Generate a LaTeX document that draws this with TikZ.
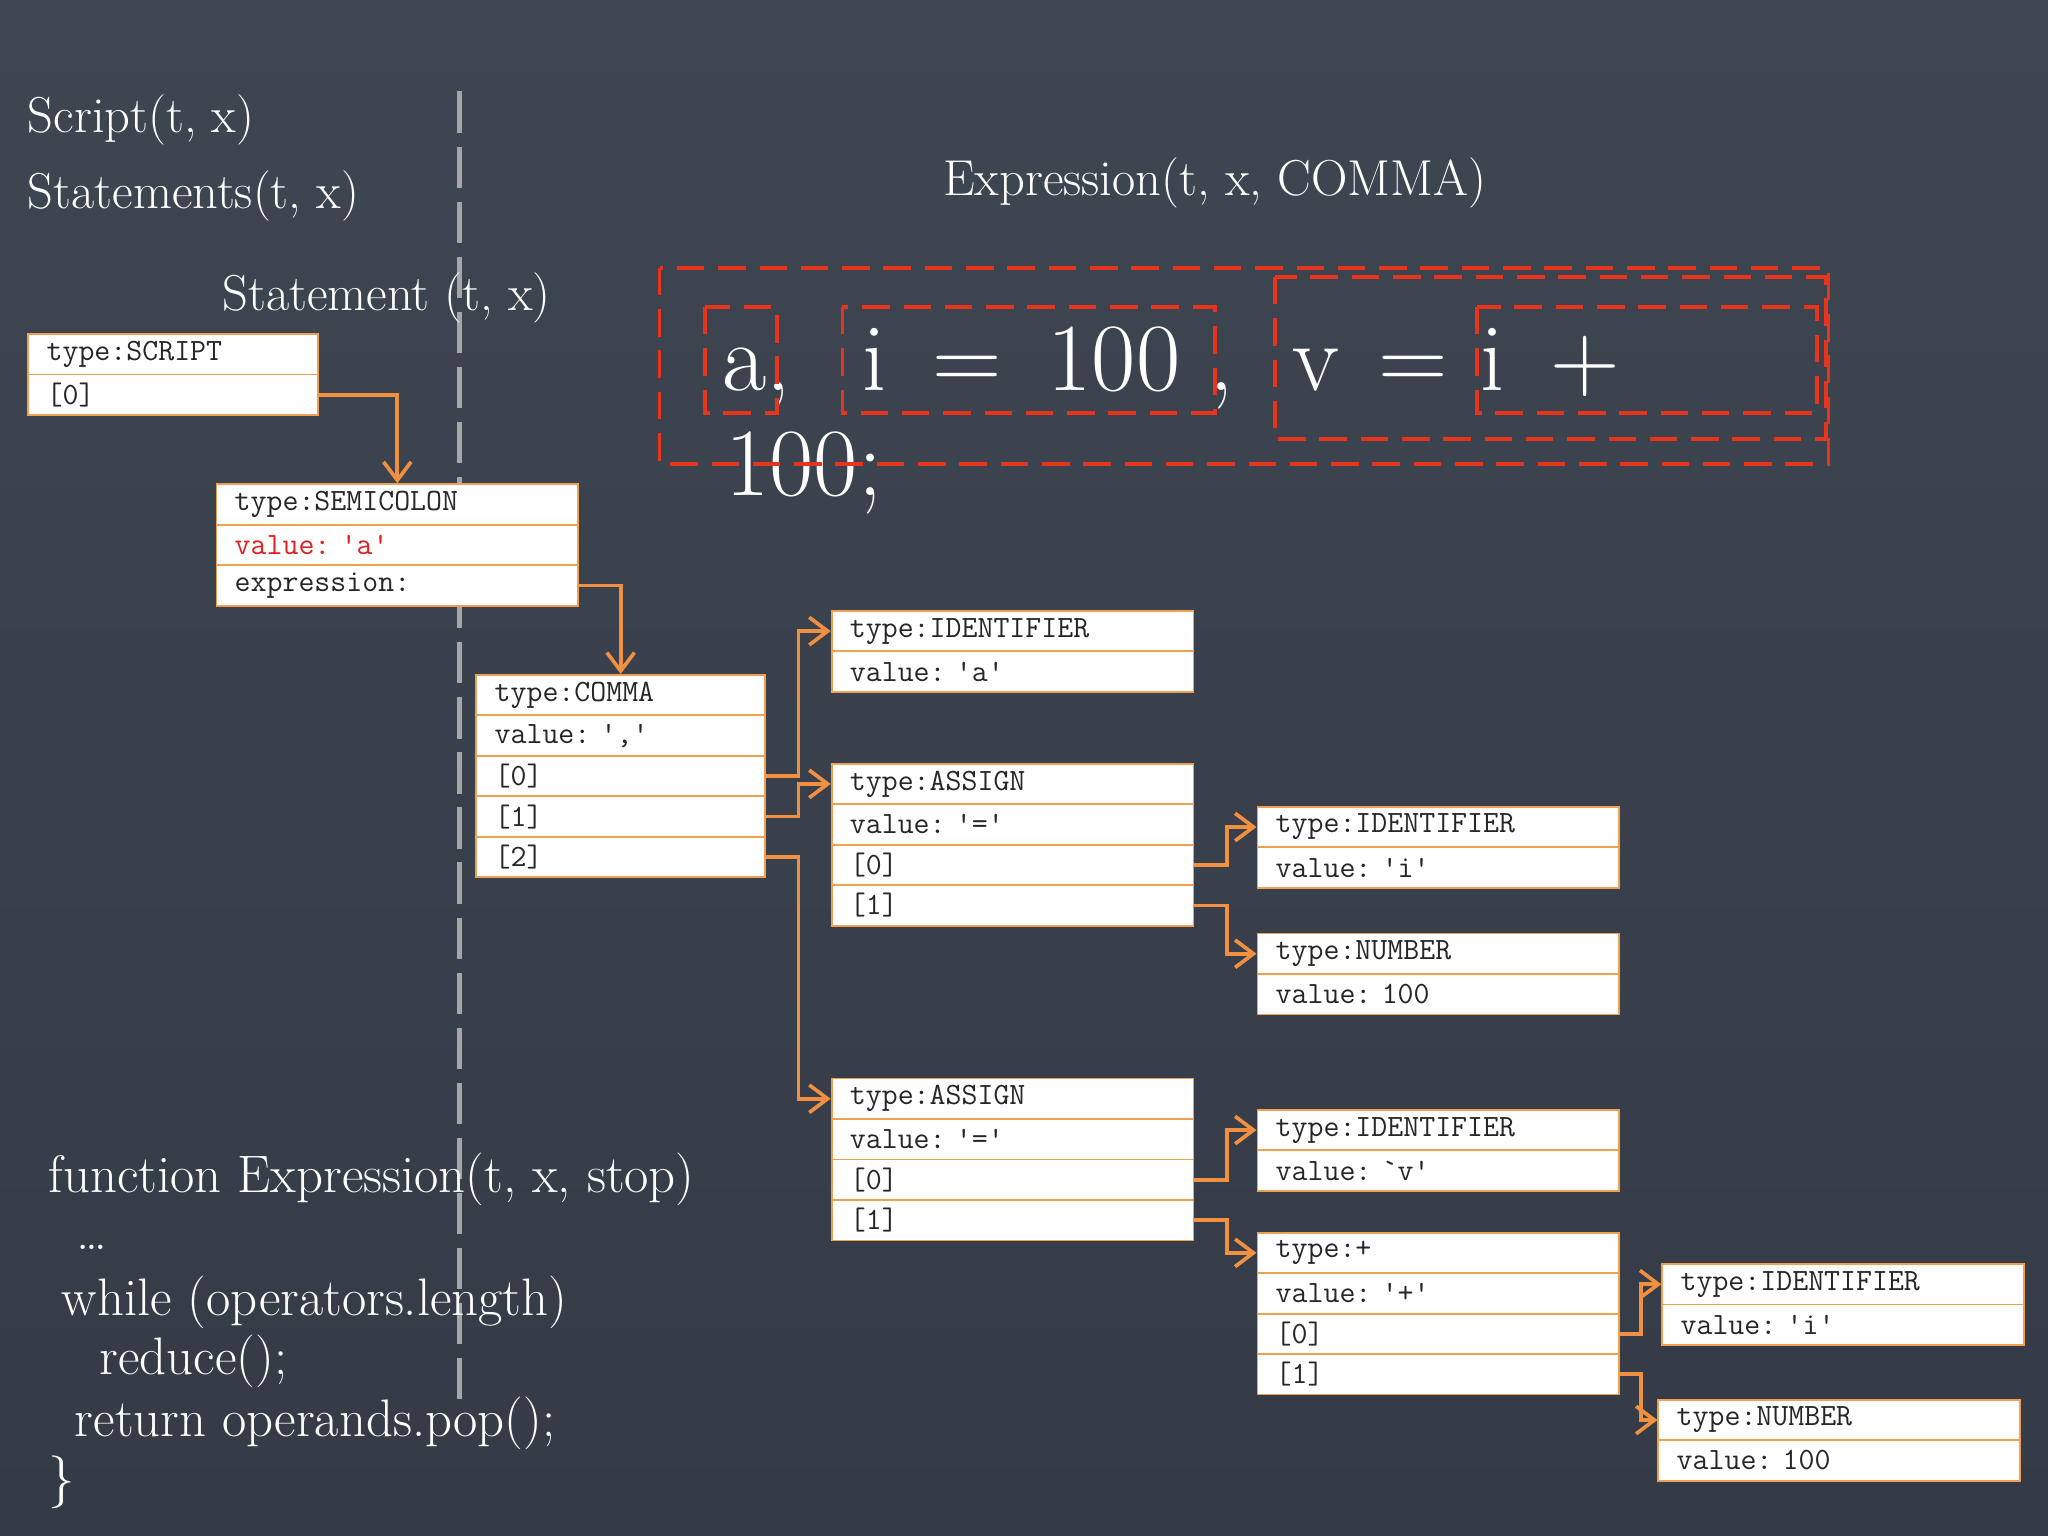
\documentclass[tikz,border=0pt]{standalone}
\usetikzlibrary{arrows.meta,calc}
\definecolor{bgA}{HTML}{3E4652}
\definecolor{bgB}{HTML}{343B46}
\definecolor{org}{HTML}{F0A050}
\definecolor{arr}{HTML}{F09040}
\definecolor{rd}{HTML}{E8341C}
\definecolor{rtxt}{HTML}{E02020}
\def\u{0.02cm}
\newcommand\q{\textquotesingle}
\tikzset{
 row/.style={draw=org,line width=0.8pt,fill=white,anchor=north west,minimum height=31*\u,inner xsep=14*\u,inner ysep=0pt,align=left,font=\ttfamily\fontsize{13.5}{15}\selectfont,text=black!85},
 conn/.style={draw=arr,line width=1.6pt,-{Straight Barb[length=8pt,width=12pt,line width=1.6pt]}},
 red box/.style={draw=rd,line width=1.6pt,dash pattern=on 12pt off 6pt},
 ttl/.style={text=white,anchor=west,font=\fontsize{22}{26}\selectfont,inner sep=0pt},
 code/.style={text=white,anchor=west,font=\fontsize{23}{27}\selectfont,inner sep=0pt}
}
\newcommand\rbox[5]{%
 \foreach \t [count=\i] in {#5} {
  \node[row,minimum width=#4*\u,text width=#4*\u-28*\u] (#1-\i) at (#2*\u,{-#3*\u-(\i-1)*31*\u}) {\t};
 }}
\begin{document}
\begin{tikzpicture}
\shade[top color=bgA,bottom color=bgB] (0,0) rectangle (1568*\u,-1176*\u);
\useasboundingbox (0,0) rectangle (1568*\u,-1176*\u);
\coordinate (l1) at (352*\u,-70*\u); \coordinate (l2) at (352*\u,-1080*\u);
\draw[gray!70,line width=2pt,dash pattern=on 18pt off 6pt] (l1) -- (l2);
\node[ttl] (t1) at (21*\u,-92*\u) {Script(t, x)};
\node[ttl] (t2) at (21*\u,-150*\u) {Statements(t, x)};
\node[ttl] (t3) at (170*\u,-228*\u) {Statement (t, x)};
\node[ttl,anchor=center] (t4) at (930*\u,-140*\u) {Expression(t, x, COMMA)};
% expression text
\node[text=white,anchor=west,inner sep=0pt,font=\fontsize{42}{46}\selectfont] (ex) at (553*\u,-282*\u) {a,\hspace{1.1cm}i\hspace{0.7cm}=\hspace{0.7cm}100\hspace{0.45cm},\hspace{0.9cm}v\hspace{0.6cm}=\hspace{0.5cm}i\hspace{0.7cm}+};
\node[text=white,anchor=west,inner sep=0pt,font=\fontsize{42}{46}\selectfont] (ex2) at (555*\u,-362*\u) {100;};
\draw[red box] (505*\u,-205*\u) rectangle (1400*\u,-355*\u);
\draw[red box] (976*\u,-212*\u) rectangle (1398*\u,-336*\u);
\draw[red box] (540*\u,-235*\u) rectangle (595*\u,-316*\u);
\draw[red box] (645*\u,-235*\u) rectangle (930*\u,-316*\u);
\draw[red box] (1131*\u,-235*\u) rectangle (1391*\u,-316*\u);
% boxes
\rbox{sc}{21}{255}{222}{type:SCRIPT,[0]}
\rbox{se}{165}{370}{277}{type:SEMICOLON,{\textcolor{rtxt}{value:\ \q a\q}},expression:}
\rbox{cm}{364}{516}{221}{type:COMMA,{value:\ \q,\q},[0],[1],[2]}
\rbox{ia}{636}{467}{277}{type:IDENTIFIER,{value:\ \q a\q}}
\rbox{as}{636}{584}{277}{type:ASSIGN,{value:\ \q=\q},[0],[1]}
\rbox{ii}{962}{617}{277}{type:IDENTIFIER,{value:\ \q i\q}}
\rbox{na}{962}{714}{277}{type:NUMBER,{value:\ 100}}
\rbox{at}{636}{825}{277}{type:ASSIGN,{value:\ \q=\q},[0],[1]}
\rbox{iv}{962}{849}{277}{type:IDENTIFIER,{value:\ `v\q}}
\rbox{pl}{962}{943}{277}{type:+,{value:\ \q+\q},[0],[1]}
\rbox{ij}{1272}{967}{277}{type:IDENTIFIER,{value:\ \q i\q}}
\rbox{nb}{1269}{1071}{277}{type:NUMBER,{value:\ 100}}
% connectors
\draw[conn] (sc-2.east) -| (se-1.north);
\draw[conn] (se-3.east) -| (cm-1.north);
\draw[conn] (cm-3.east) -- ++(25*\u,0) |- (ia-1.west);
\draw[conn] (cm-4.east) -- ++(25*\u,0) |- (as-1.west);
\draw[conn] (cm-5.east) -- ++(25*\u,0) |- (at-1.west);
\draw[conn] (as-3.east) -- ++(25*\u,0) |- (ii-1.west);
\draw[conn] (as-4.east) -- ++(25*\u,0) |- (na-1.west);
\draw[conn] (at-3.east) -- ++(25*\u,0) |- (iv-1.west);
\draw[conn] (at-4.east) -- ++(25*\u,0) |- (pl-1.west);
\draw[conn] (pl-3.east) -- ++(16*\u,0) |- (ij-1.west);
\draw[conn] (pl-4.east) -- ++(16*\u,0) |- (nb-1.west);
% code
\node[code] (c1) at (37*\u,-903*\u) {function Expression(t, x, stop)};
\node[code] (c2) at (58*\u,-955*\u) {\dots};
\node[code] (c3) at (47*\u,-997*\u) {while (operators.length)};
\node[code] (c4) at (76*\u,-1042*\u) {reduce();};
\node[code] (c5) at (57*\u,-1090*\u) {return operands.pop();};
\node[code] (c6) at (37*\u,-1135*\u) {\}};
\end{tikzpicture}
\end{document}
